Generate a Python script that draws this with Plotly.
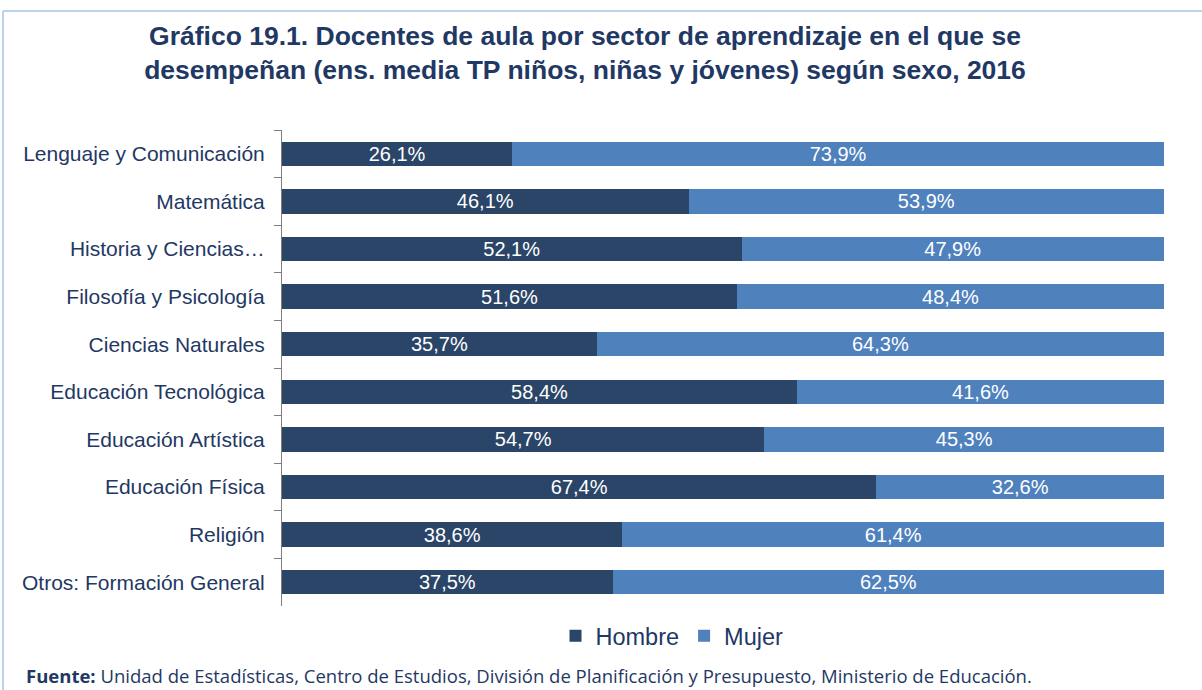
import plotly.graph_objects as go

categories = [
    "Lenguaje y Comunicación",
    "Matemática",
    "Historia y Ciencias…",
    "Filosofía y Psicología",
    "Ciencias Naturales",
    "Educación Tecnológica",
    "Educación Artística",
    "Educación Física",
    "Religión",
    "Otros: Formación General",
]
hombre = [26.1, 46.1, 52.1, 51.6, 35.7, 58.4, 54.7, 67.4, 38.6, 37.5]
mujer = [73.9, 53.9, 47.9, 48.4, 64.3, 41.6, 45.3, 32.6, 61.4, 62.5]

W, H = 1202, 690
L, R, T, B = 282, 38, 130, 84
pw, ph = W - L - R, H - T - B

def px_x(px):
    return (px - L) / pw

def px_y(py):
    return (H - B - py) / ph

navy = "#1F3864"
ARIAL = "Liberation Sans, Arial, sans-serif"

fig = go.Figure()
fig.add_trace(go.Bar(
    y=categories, x=hombre, name="Hombre", orientation="h",
    marker=dict(color="#2A4568", line=dict(width=0)),
    texttemplate="%{x:.1f}%", textposition="inside", insidetextanchor="middle",
    constraintext="none",
    textfont=dict(color="white", size=20, family=ARIAL),
))
fig.add_trace(go.Bar(
    y=categories, x=mujer, name="Mujer", orientation="h",
    marker=dict(color="#4F81BD", line=dict(width=0)),
    texttemplate="%{x:.1f}%", textposition="inside", insidetextanchor="middle",
    constraintext="none",
    textfont=dict(color="white", size=20, family=ARIAL),
))

fig.update_layout(
    width=W, height=H,
    barmode="stack", bargap=0.49,
    separators=",.",
    margin=dict(l=L, r=R, t=T, b=B),
    paper_bgcolor="white", plot_bgcolor="white",
    font=dict(family=ARIAL, color=navy),
    title=dict(
        text="<b>Gráfico 19.1. Docentes de aula por sector de aprendizaje en el que se<br>desempeñan (ens. media TP niños, niñas y jóvenes) según sexo, 2016</b>",
        x=585 / W, xanchor="center", y=1 - 45 / H, yanchor="middle",
        font=dict(size=26.5, color=navy, family=ARIAL),
    ),
    xaxis=dict(range=[0, 100], visible=False, fixedrange=True),
    yaxis=dict(
        autorange="reversed", showline=True, linecolor="#7F7F7F", linewidth=1,
        ticks="outside", ticklen=7, tickcolor="#7F7F7F", tickson="boundaries",
        tickfont=dict(size=21, color=navy, family=ARIAL),
        ticklabelstandoff=12, showgrid=False, fixedrange=True,
    ),
    legend=dict(
        orientation="h", x=px_x(672), xanchor="center", y=px_y(636), yanchor="middle",
        font=dict(size=23.5, color=navy, family=ARIAL),
        itemwidth=30, traceorder="normal",
    ),
    annotations=[dict(
        text="<b>Fuente:</b> Unidad de Estadísticas, Centro de Estudios, División de Planificación y Presupuesto, Ministerio de Educación.",
        xref="paper", yref="paper", x=px_x(24), y=px_y(675), xanchor="left", yanchor="middle",
        showarrow=False, font=dict(size=18.5, color=navy, family="Open Sans"),
    )],
    shapes=[
        dict(type="line", xref="paper", yref="paper", x0=px_x(3), x1=px_x(W + 5), y0=px_y(11), y1=px_y(11),
             line=dict(color="#A7C3E6", width=1.5)),
        dict(type="line", xref="paper", yref="paper", x0=px_x(3), x1=px_x(3), y0=px_y(11), y1=px_y(H + 5),
             line=dict(color="#A7C3E6", width=1.5)),
    ],
)

fig.write_html(
    "out.html",
    config={"displayModeBar": False},
    post_script="document.body.style.margin='0';document.body.style.padding='0';",
)
